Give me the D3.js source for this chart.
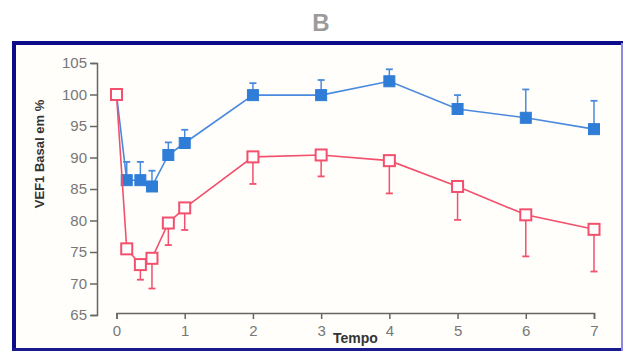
<!DOCTYPE html>
<html>
<head>
<meta charset="utf-8">
<script src="https://cdn.jsdelivr.net/npm/d3@7"></script>
<style>
    body { margin: 0; background: #fff; }
    svg { display: block; }
    .tick text { font-family: "Liberation Sans", Arial, sans-serif; }
</style>
</head>
<body>
<div id="chart"></div>
<script>
// tempo (x) values
const tempoBasal = [0, 0.15, 0.35, 0.52, 0.76, 1, 2, 3, 4, 5, 6, 7]

// blue series (filled squares), mean and upper error
const azulMedia = [100, 86.4, 86.4, 85.4, 90.4, 92.3, 99.9, 99.9, 102.1, 97.7, 96.3, 94.5]
const azulErro = [null, 89.3, 89.3, 87.9, 92.4, 94.4, 101.8, 102.3, 104.0, 99.9, 100.8, 99.0]

// red series (open squares), mean and lower error
const vermelhoMedia = [100, 75.5, 73.0, 74.0, 79.6, 82.0, 90.1, 90.4, 89.5, 85.4, 80.9, 78.6]
const vermelhoErro = [null, null, 70.6, 69.2, 76.1, 78.5, 85.8, 87.0, 84.3, 80.1, 74.3, 71.9]

const yTicks = [65, 70, 75, 80, 85, 90, 95, 100, 105]
const xTicks = [0, 1, 2, 3, 4, 5, 6, 7]

const width = 630
const height = 351

const svg = d3.select("#chart")
    .append("svg")
    .attr("width", width)
    .attr("height", height)

// title
svg.append("text")
    .attr("x", 321)
    .attr("y", 31)
    .attr("text-anchor", "middle")
    .style("font-family", "Liberation Sans, Arial, sans-serif")
    .style("font-weight", "bold")
    .style("font-size", "24px")
    .style("fill", "#9a9a9a")
    .text("B")

// frame
svg.append("rect")
    .attr("x", 14).attr("y", 44)
    .attr("width", 608).attr("height", 305)
    .attr("fill", "#fffefa")
svg.append("line").attr("x1", 14).attr("x2", 623).attr("y1", 43).attr("y2", 43)
    .attr("stroke", "#0c0c8a").attr("stroke-width", 4)
svg.append("line").attr("x1", 14).attr("x2", 14).attr("y1", 41).attr("y2", 351)
    .attr("stroke", "#0c0c8a").attr("stroke-width", 4)
svg.append("line").attr("x1", 12).attr("x2", 623).attr("y1", 349.5).attr("y2", 349.5)
    .attr("stroke", "#1a1a90").attr("stroke-width", 3)
svg.append("line").attr("x1", 622).attr("x2", 622).attr("y1", 43).attr("y2", 351)
    .attr("stroke", "#8a8ae0").attr("stroke-width", 2)

// scales
const xScale = d3.scaleLinear()
    .domain([0, 7])
    .range([116.5, 594])

const yScale = d3.scaleLinear()
    .domain([65, 105])
    .range([315, 63])

// axes
const yAxis = svg.append("g")
    .attr("transform", "translate(97,0)")
    .call(d3.axisLeft(yScale).tickValues(yTicks).tickFormat(d3.format("d"))
        .tickSize(7).tickSizeOuter(6).tickPadding(3))
yAxis.select(".domain").attr("stroke", "#666").attr("stroke-width", 1.5)
yAxis.selectAll(".tick line").attr("stroke", "#666").attr("stroke-width", 1.5)
yAxis.selectAll(".tick text")
    .style("font-size", "15px")
    .style("fill", "#777")

const xAxis = svg.append("g")
    .attr("transform", "translate(0,313)")
    .call(d3.axisBottom(xScale).tickValues(xTicks).tickFormat(d3.format("d"))
        .tickSize(6).tickSizeOuter(6).tickPadding(6))
xAxis.select(".domain").attr("stroke", "#666").attr("stroke-width", 1.5)
xAxis.selectAll(".tick line").attr("stroke", "#666").attr("stroke-width", 1.5)
xAxis.selectAll(".tick text")
    .style("font-size", "15px")
    .style("fill", "#777")

// axis titles
svg.append("text")
    .attr("transform", "translate(44,154) rotate(-90)")
    .attr("text-anchor", "middle")
    .style("font-family", "Liberation Sans, Arial, sans-serif")
    .style("font-weight", "bold")
    .style("font-size", "13px")
    .style("fill", "#333")
    .text("VEF1 Basal em %")

svg.append("text")
    .attr("x", 333)
    .attr("y", 343)
    .style("font-family", "Liberation Sans, Arial, sans-serif")
    .style("font-weight", "bold")
    .style("font-size", "14px")
    .style("fill", "#333")
    .text("Tempo")

const blue = "#2f7dd6"
const blueLine = "#4a8ade"
const red = "#f2506c"
const markSize = 11
const cap = 3.5

function drawSeries(media, erro, opts) {
    const data = tempoBasal.map((t, i) => ({ t: t, v: media[i], e: erro[i] }))
    const g = svg.append("g")

    // error bars
    const bars = data.filter(d => d.e != null)
    g.selectAll(".err")
        .data(bars)
        .join("line")
        .attr("x1", d => xScale(d.t))
        .attr("x2", d => xScale(d.t))
        .attr("y1", d => yScale(d.v))
        .attr("y2", d => yScale(d.e))
        .attr("stroke", opts.lineColor)
        .attr("stroke-width", 1.5)
    g.selectAll(".cap")
        .data(bars)
        .join("line")
        .attr("x1", d => xScale(d.t) - cap)
        .attr("x2", d => xScale(d.t) + cap)
        .attr("y1", d => yScale(d.e))
        .attr("y2", d => yScale(d.e))
        .attr("stroke", opts.lineColor)
        .attr("stroke-width", 1.8)

    const lineGenerator = d3.line()
        .x(d => xScale(d.t))
        .y(d => yScale(d.v))

    g.append("path")
        .attr("d", lineGenerator(data))
        .attr("fill", "none")
        .attr("stroke", opts.lineColor)
        .attr("stroke-width", 1.6)

    g.selectAll(".mark")
        .data(data.slice(opts.skipFirst ? 1 : 0))
        .join("rect")
        .attr("x", d => xScale(d.t) - markSize / 2)
        .attr("y", d => yScale(d.v) - markSize / 2)
        .attr("width", markSize)
        .attr("height", markSize)
        .attr("fill", opts.fill)
        .attr("stroke", opts.stroke)
        .attr("stroke-width", opts.strokeWidth)
}

drawSeries(azulMedia, azulErro, { lineColor: blueLine, fill: blue, stroke: blue, strokeWidth: 1, skipFirst: true })
drawSeries(vermelhoMedia, vermelhoErro, { lineColor: red, fill: "#fff", stroke: red, strokeWidth: 2, skipFirst: false })
</script>
</body>
</html>
